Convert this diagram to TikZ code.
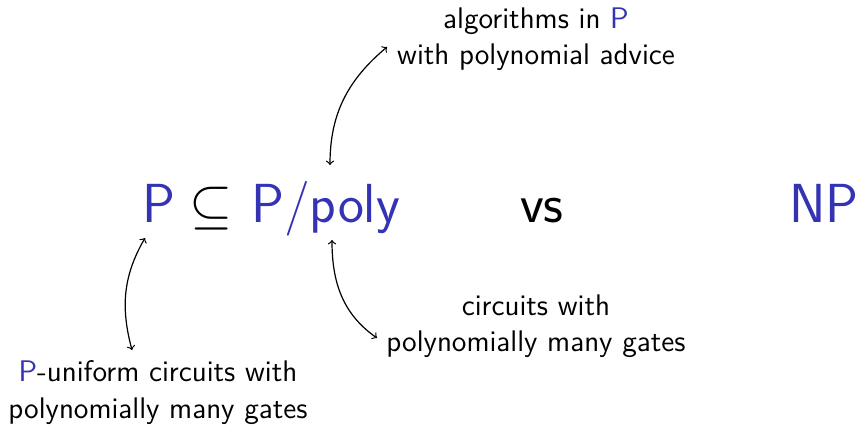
\documentclass[tikz,border=0pt]{standalone}
\usepackage{fontspec}
\usepackage{graphicx}
\usetikzlibrary{arrows}
\definecolor{struct}{RGB}{51,51,179}
\tikzset{
  big/.style={font=\sffamily\fontsize{27.5}{30}\selectfont, inner sep=0pt, anchor=base},
  small/.style={font=\sffamily\fontsize{14.9}{18.2}\selectfont, inner sep=0pt, align=center, anchor=north},
  link/.style={<->, >=to, line width=0.6pt}
}
\begin{document}
\begin{tikzpicture}[x=0.5pt,y=-0.5pt]
\useasboundingbox (0,0) rectangle (858,424);
% main line
\node[big, text=struct] (P) at (159,222) {P};
\node[big] (sub) at (211.5,222) {\fontsize{24.88}{30}\selectfont\scalebox{1.115}{$\subseteq$}};
\node[big, text=struct] (Ppoly) at (325.5,222) {P/poly};
\node[big] (vs) at (542,222) {vs};
\node[big, text=struct] (NP) at (824,222) {NP};
% labels
\node[small] (adv) at (536,7.5) {algorithms in \textcolor{struct}{P}\\with polynomial advice};
\node[small] (circ) at (536,294.5) {circuits with\\polynomially many gates};
\node[small] (unif) at (158,360.5) {\textcolor{struct}{P}-uniform circuits with\\polynomially many gates};
% connector ends
\coordinate (a1) at (330,165);
\coordinate (a2) at (387,47);
\coordinate (b1) at (145,238);
\coordinate (b2) at (132,350);
\coordinate (c1) at (332,240);
\coordinate (c2) at (377,338);
\draw[link] (a1) to[out=90,in=220] (a2);
\draw[link] (b1) to[out=240,in=105] (b2);
\draw[link] (c1) to[out=270,in=145] (c2);
\end{tikzpicture}
\end{document}
